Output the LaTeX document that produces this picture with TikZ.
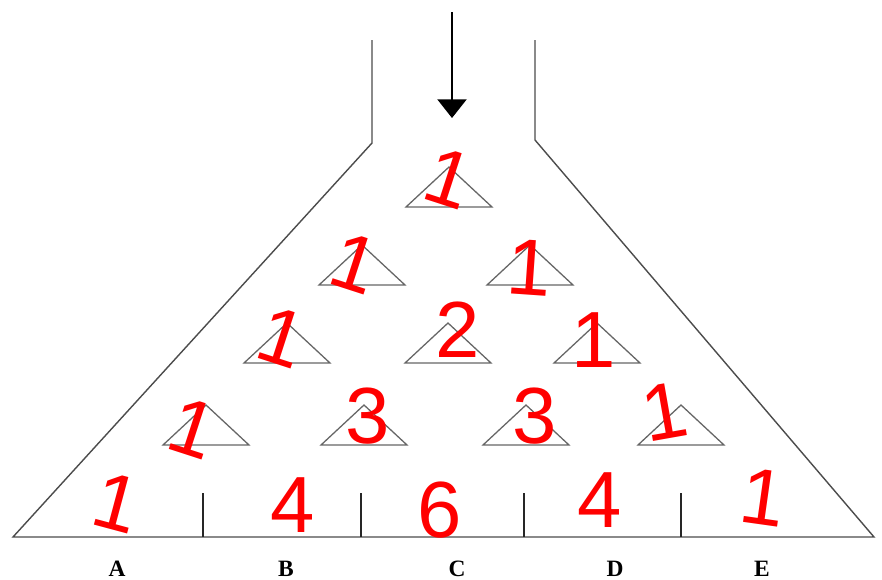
\documentclass[tikz,border=0pt]{standalone}
\usepackage{fontspec}
\setmainfont{Liberation Serif}
\newfontfamily\handfont{Liberation Sans}
\usetikzlibrary{arrows.meta,positioning}

\begin{document}
\begin{tikzpicture}[
  x=0.03cm, y=-0.03cm,
  wall/.style={draw=black!70, line width=1.2pt},
  peg/.style={draw=black!60, line width=1.1pt},
  divider/.style={draw=black!85, line width=1.1pt},
  arr/.style={-{Triangle[length=16pt,width=25pt]}, line width=1.3pt},
  binlabel/.style={font=\fontsize{20}{22}\selectfont\bfseries, inner sep=0pt},
  num/.style={text=red, font=\handfont\fontsize{68}{68}\selectfont, inner sep=0pt},
  lean/.style={num, rotate=-18}
]
\useasboundingbox (0,0) rectangle (882,580);

% Funnel
\coordinate (topL) at (372,40);
\coordinate (neckL) at (372,143);
\coordinate (footL) at (13,537);
\coordinate (topR) at (535,40);
\coordinate (neckR) at (535,140);
\coordinate (footR) at (874,537);
\draw[wall] (topL) -- (neckL) -- (footL) -- (footR) -- (neckR) -- (topR);

% Drop
\coordinate (drop) at (452,12);
\coordinate (dropend) at (452,118);
\draw[arr] (drop) -- (dropend);

% Pegs
\foreach \x/\y in {449/207, 362/285, 530/285, 287/363, 448/363, 597/363,
                   206/445, 364/445, 526/445, 681/445}
  \draw[peg] (\x-43,\y) -- (\x,\y-40) -- (\x+43,\y) -- cycle;

% Bins
\foreach \x in {203,361,524,681}
  \draw[divider] (\x,493) -- (\x,537);

\node[binlabel] (binA) at (117,569) {A};
\node[binlabel] (binB) at (286,569) {B};
\node[binlabel] (binC) at (457,569) {C};
\node[binlabel] (binD) at (615,569) {D};
\node[binlabel] (binE) at (762,569) {E};

% Counts
\node[lean] (r0a) at (449,178) {1};

\node[lean] (r1a) at (355,263) {1};
\node[num, rotate=-4] (r1b) at (530,268) {1};

\node[lean] (r2a) at (282,337) {1};
\node[num] (r2b) at (458,330) {2};
\node[num] (r2c) at (594,340) {1};

\node[lean] (r3a) at (193,428) {1};
\node[num] (r3b) at (368,416) {3};
\node[num] (r3c) at (535,416) {3};
\node[num, rotate=10] (r3d) at (665,412) {1};

\node[num, rotate=-15] (sA) at (117,503) {1};
\node[num] (sB) at (293,505) {4};
\node[num] (sC) at (440,510) {6};
\node[num] (sD) at (600,500) {4};
\node[num, rotate=-8] (sE) at (763,497) {1};

\end{tikzpicture}
\end{document}
